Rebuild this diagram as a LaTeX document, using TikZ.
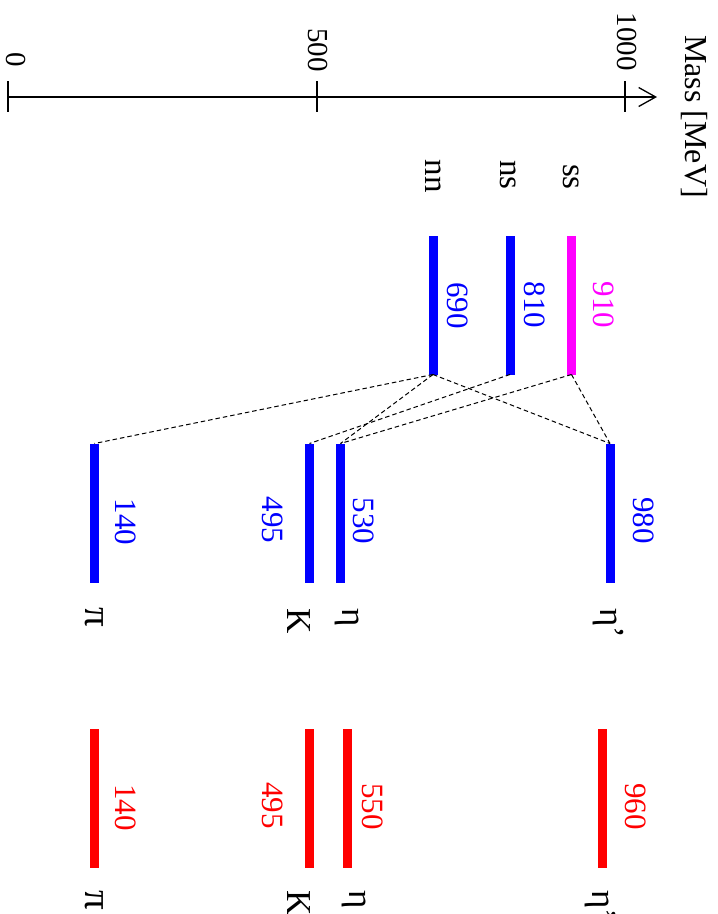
\documentclass[tikz,border=0pt]{standalone}
\usepackage{fontspec}
\setmainfont{Liberation Serif}
\usetikzlibrary{arrows.meta}
\definecolor{lvlblue}{RGB}{0,0,255}
\definecolor{lvlmag}{RGB}{255,0,255}
\definecolor{lvlred}{RGB}{255,0,0}
\begin{document}
\begin{tikzpicture}[x=1pt,y=-1pt,
  level/.style={draw=none, minimum width=9pt, minimum height=139pt, inner sep=0pt, outer sep=0pt},
  mass/.style={rotate=-90, inner sep=0pt, font=\fontsize{31}{36}\selectfont},
  ticklbl/.style={rotate=-90, inner sep=0pt, text depth=0pt, anchor=base east, font=\fontsize{29}{33}\selectfont},
  quark/.style={rotate=-90, inner sep=0pt, anchor=base east, font=\fontsize{33}{38}\selectfont},
  meson/.style={rotate=-90, inner sep=0pt, anchor=base west, font=\fontsize{35}{40}\selectfont},
  axis/.style={line width=1.3pt},
  link/.style={line width=1pt, dash pattern=on 4.5pt off 3pt}]
\useasboundingbox (0,0) rectangle (718,914);

% mass axis
\coordinate (t0) at (8,97);
\coordinate (t500) at (317,97);
\coordinate (t1000) at (625,97);
\coordinate (tip) at (657,97);
\draw[axis, -{Straight Barb[length=17pt, width=19pt, line width=1.3pt]}] (t0) -- (tip);
\foreach \t in {t0,t500,t1000} \draw[axis] (\t) ++(0,-16) -- ++(0,31);
\node[ticklbl] (l0) at (6,67) {0};
\node[ticklbl] (l500) at (308,72) {500};
\node[ticklbl] (l1000) at (617,71) {1000};
\node[rotate=-90, inner sep=0pt, anchor=base west, font=\fontsize{32}{36}\selectfont] (axlbl) at (685,35) {Mass [MeV]};

% quark-model levels
\node[level, fill=lvlblue] (nn) at (433,305) {};
\node[level, fill=lvlblue] (ns) at (510,305) {};
\node[level, fill=lvlmag]  (ss) at (571.5,305) {};
\node[mass, text=lvlblue] (vnn) at (458,305.5) {690};
\node[mass, text=lvlblue] (vns) at (534.5,305) {810};
\node[mass, text=lvlmag]  (vss) at (603.5,305) {910};
\node[quark] (qnn) at (425,193) {nn};
\node[quark] (qns) at (500,190) {ns};
\node[quark] (qss) at (563,190) {ss};

% mixed levels
\node[level, fill=lvlblue] (pi)   at (94.5,513) {};
\node[level, fill=lvlblue] (K)    at (309.5,513) {};
\node[level, fill=lvlblue] (eta)  at (340.5,513) {};
\node[level, fill=lvlblue] (etap) at (610,513) {};
\node[mass, text=lvlblue] (vpi)   at (126,522) {140};
\node[mass, text=lvlblue] (vK)    at (272.5,520) {495};
\node[mass, text=lvlblue] (veta)  at (364,521) {530};
\node[mass, text=lvlblue] (vetap) at (644,520.5) {980};
\node[meson] (npi)   at (85,607) {\fontsize{39}{44}\selectfont π};
\node[meson] (nK)    at (287,608) {K};
\node[meson] (neta)  at (342,608) {η};
\node[meson] (netap) at (600,608) {η’};

% experimental levels
\node[level, fill=lvlred] (xpi)   at (94.5,798.5) {};
\node[level, fill=lvlred] (xK)    at (309.5,798.5) {};
\node[level, fill=lvlred] (xeta)  at (347.5,798.5) {};
\node[level, fill=lvlred] (xetap) at (602.5,798.5) {};
\node[mass, text=lvlred] (wpi)   at (126,807.5) {140};
\node[mass, text=lvlred] (wK)    at (272.5,805.5) {495};
\node[mass, text=lvlred] (weta)  at (372.5,806.5) {550};
\node[mass, text=lvlred] (wetap) at (635.5,806.5) {960};
\node[meson] (mpi)   at (85,890) {\fontsize{39}{44}\selectfont π};
\node[meson] (mK)    at (287,890) {K};
\node[meson] (meta)  at (349,890) {η};
\node[meson] (metap) at (592,890) {η’};

% mixing
\draw[link] (nn.south) -- (pi.north);
\draw[link] (nn.south) -- (eta.north);
\draw[link] (nn.south) -- (etap.north);
\draw[link] (ns.south) -- (K.north);
\draw[link] (ss.south) -- (eta.north);
\draw[link] (ss.south) -- (etap.north);
\end{tikzpicture}
\end{document}
